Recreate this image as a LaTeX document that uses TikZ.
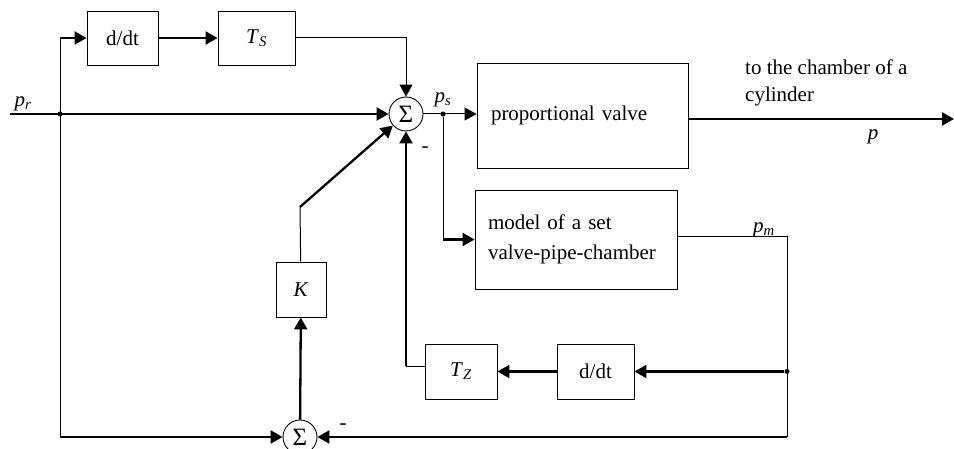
\documentclass[tikz,border=0pt]{standalone}
\usepackage{fontspec}
\setmainfont{Liberation Serif}
\usetikzlibrary{positioning,calc,arrows.meta}

\begin{document}
\begin{tikzpicture}[x=1pt, y=-1pt,
		blk/.style={draw, line width=0.9pt, inner sep=0pt, font=\fontsize{21}{25}\selectfont},
		sum/.style={draw, circle, line width=0.9pt, minimum size=34pt, inner sep=0pt, font=\fontsize{25}{28}\selectfont},
		lnthin/.style={line width=1pt},
		lnthick/.style={line width=2.3pt},
		arr/.style={-{Triangle[length=12pt,width=13pt]}},
		lbl/.style={inner sep=0pt, font=\fontsize{21}{25}\selectfont},
		dot/.style={circle, fill, inner sep=0pt, minimum size=5pt}]
		\useasboundingbox (0,0) rectangle (954,449);
		\node[sum] (sumA) at (406,114) {Σ};
		\node[sum] (sumB) at (300,437) {Σ};
		\node[blk, minimum width=71pt, minimum height=54pt] (ddtA) at (122.5,38) {d/dt};
		\node[blk, minimum width=77pt, minimum height=54pt] (ts) at (256.5,38) {\textit{T}\textsubscript{\textit{S}}};
		\node[blk, minimum width=211pt, minimum height=105pt, text width=183pt, align=left] (valve) at (582.5,115.5) {proportional valve};
		\node[blk, minimum width=202pt, minimum height=99pt, text width=176pt, align=left, font=\fontsize{21}{30}\selectfont] (model) at (576,239.5) {model of a set\\valve-pipe-chamber};
		\node[blk, minimum width=50pt, minimum height=55pt] (k) at (301,289.5) {\textit{K}};
		\node[blk, minimum width=72pt, minimum height=55pt] (tz) at (461,371.5) {\textit{T}\textsubscript{\textit{Z}}};
		\node[blk, minimum width=77pt, minimum height=55pt] (ddtB) at (595.5,371.5) {d/dt};
		\coordinate (pr) at (10,114);
		\node[dot] (brA) at (60,114) {};
		\coordinate (up) at (60,38);
		\coordinate (dn) at (60,437);
		\node[dot] (brB) at (443,114) {};
		\coordinate (out) at (954,119);
		\coordinate (pmc) at (787,237);
		\node[dot] (brC) at (787,371.5) {};
		\coordinate (bot) at (787,437);
		\coordinate (kt) at (300,207);
		\coordinate (tzc) at (406,366);
		\draw[lnthick, arr] (pr) -- (sumA);
		\draw[lnthin] (up) -- (dn);
		\draw[lnthick, arr] (up) -- (ddtA);
		\draw[lnthick, arr] (ddtA) -- (ts);
		\draw[lnthin, arr] (ts) -| (sumA);
		\draw[lnthin, arr] (sumA.east) -- (sumA.east -| valve.west);
		\draw[lnthin] (brB) -- (brB |- model.west);
		\draw[lnthick, arr] (brB |- model.west) -- (model.west);
		\draw[lnthick, arr] (valve.east |- out) -- (out);
		\draw[lnthin] (model.east |- pmc) -- (pmc) -- (bot);
		\draw[lnthick, arr] (brC) -- (ddtB);
		\draw[lnthick, arr] (ddtB) -- (tz);
		\draw[lnthin] (tz.west |- tzc) -- (tzc);
		\draw[lnthick, arr] (tzc) -- (sumA);
		\draw[lnthick, arr] (bot) -- (sumB);
		\draw[lnthick, arr] (dn) -- (sumB);
		\draw[lnthick, arr] (sumB) -- (k);
		\draw[lnthin] (k) -- (kt);
		\draw[lnthick, arr] (kt) -- (sumA);
		\node[lbl] (prl) at (23,104) {\textit{p}\textsubscript{\textit{r}}};
		\node[lbl] (psl) at (443,100) {\textit{p}\textsubscript{\textit{s}}};
		\node[lbl] (pml) at (764,230) {\textit{p}\textsubscript{\textit{m}}};
		\node[lbl] (pl) at (873,137) {\textit{p}};
		\node[lbl, anchor=west, align=left, font=\fontsize{21}{27}\selectfont] (dest) at (745,83) {to the chamber of a\\cylinder};
		\node[lbl] (minA) at (425,150) {-};
		\node[lbl] (minB) at (343,427) {-};
	\end{tikzpicture}
\end{document}
